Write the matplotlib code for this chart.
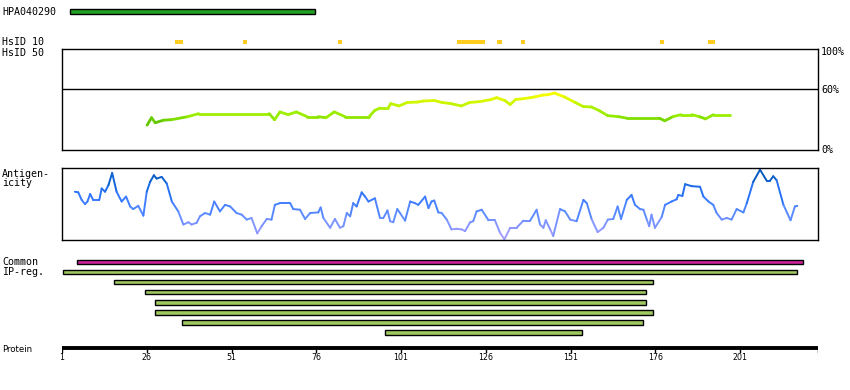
import matplotlib.pyplot as plt
import numpy as np
from matplotlib.collections import LineCollection
from matplotlib.colors import LinearSegmentedColormap

# Protein / antigen data (residue positions)
protein_len = 224
tick_pos = [1, 26, 51, 76, 101, 126, 151, 176, 201]
antigen_name = "HPA040290"
antigen_span = (3.4, 75.6)

hsid10_start = [34.3, 54.4, 82.4, 117.5, 129.3, 136.4, 177.4, 191.6]
hsid10_end = [36.7, 55.6, 83.6, 125.8, 130.8, 137.6, 178.6, 193.6]

sim_pos = [26.1, 27.4, 28.5, 30.9, 33.3, 38.1, 41.3, 62.1, 63.7, 65.3, 67.7, 70.1,
           73.3, 76.5, 78.9, 81.3, 84.5, 91.6, 93.2, 94.8, 97.2, 98.0, 100.4, 102.8,
           106.0, 107.6, 110.8, 113.2, 115.6, 118.8, 121.2, 124.4, 127.6, 129.2,
           131.6, 133.2, 134.8, 137.2, 140.4, 142.8, 144.4, 146.3, 149.2, 152.4,
           154.8, 157.2, 159.6, 162.0, 165.2, 167.6, 177.2, 178.8, 181.2, 183.6,
           186.8, 189.2, 190.8, 193.2, 198.0]
sim_val = [24.6, 32.0, 27.0, 29.5, 30.0, 33.0, 36.0, 36.0, 30.0, 37.7, 35.0, 37.7,
           33.0, 33.0, 32.0, 37.7, 33.0, 33.0, 39.0, 41.6, 41.6, 46.0, 43.6, 47.0,
           47.5, 48.5, 49.0, 47.0, 46.0, 43.6, 47.0, 48.0, 50.0, 51.8, 49.0, 45.0,
           50.0, 50.8, 52.5, 54.4, 54.8, 56.4, 52.5, 47.0, 43.0, 42.6, 38.7, 34.0,
           33.0, 31.5, 31.5, 28.9, 33.0, 35.0, 35.0, 32.8, 30.8, 35.0, 35.0]

ag_pos = [4.8, 5.8, 6.8, 7.8, 8.5, 9.3, 10.2, 12.0, 12.7, 13.7, 14.7, 15.8, 17.1,
          18.6, 19.9, 21.1, 22.0, 23.5, 25.0, 26.0, 27.0, 28.1, 28.9, 30.4, 31.9,
          33.4, 35.3, 36.8, 38.3, 39.2, 40.7, 41.7, 43.2, 44.7, 45.9, 47.6, 49.1,
          50.6, 52.5, 54.0, 55.5, 56.9, 58.6, 59.9, 61.4, 62.8, 63.8, 65.3, 68.3,
          69.2, 71.2, 72.7, 74.2, 76.6, 77.3, 78.1, 80.1, 81.5, 83.0, 84.0, 85.0,
          86.0, 86.9, 87.9, 89.4, 90.4, 91.4, 93.3, 94.8, 95.8, 97.0, 97.8, 98.7,
          99.9, 100.7, 102.2, 103.7, 105.1, 106.1, 108.1, 109.1, 110.0, 110.8,
          112.0, 113.0, 114.5, 115.9, 117.4, 118.9, 119.9, 121.4, 122.3, 123.3,
          124.8, 126.8, 128.7, 130.2, 131.5, 133.2, 135.1, 137.1, 139.1, 141.0,
          142.0, 143.0, 143.7, 145.0, 145.9, 147.9, 149.4, 150.9, 152.8, 154.8,
          155.8, 157.2, 159.0, 160.7, 162.0, 163.6, 164.9, 165.9, 167.6, 169.0,
          170.0, 171.5, 172.5, 173.5, 174.2, 174.9, 175.9, 177.9, 178.9, 180.8,
          182.3, 182.8, 184.0, 184.8, 186.7, 189.2, 190.2, 191.7, 193.1, 194.1,
          195.6, 197.1, 198.5, 200.0, 202.0, 203.0, 204.9, 206.9, 208.9, 209.8,
          210.8, 211.8, 213.8, 215.9, 217.2, 217.9]
ag_val = [0.674, 0.665, 0.558, 0.498, 0.535, 0.642, 0.558, 0.558, 0.72, 0.674,
          0.767, 0.94, 0.674, 0.535, 0.605, 0.465, 0.428, 0.474, 0.335, 0.674,
          0.814, 0.907, 0.86, 0.884, 0.79, 0.535, 0.395, 0.209, 0.242, 0.209,
          0.233, 0.326, 0.372, 0.349, 0.535, 0.395, 0.488, 0.465, 0.372, 0.349,
          0.279, 0.302, 0.084, 0.186, 0.288, 0.279, 0.488, 0.512, 0.512, 0.428,
          0.419, 0.288, 0.372, 0.381, 0.451, 0.302, 0.163, 0.288, 0.163, 0.186,
          0.372, 0.326, 0.512, 0.465, 0.665, 0.605, 0.535, 0.581, 0.302, 0.302,
          0.409, 0.256, 0.242, 0.428, 0.372, 0.265, 0.535, 0.512, 0.488, 0.605,
          0.442, 0.535, 0.549, 0.381, 0.372, 0.279, 0.14, 0.149, 0.14, 0.116,
          0.242, 0.256, 0.395, 0.419, 0.27, 0.27, 0.093, 0.0, 0.163, 0.163, 0.265,
          0.265, 0.419, 0.209, 0.163, 0.27, 0.14, 0.047, 0.428, 0.395, 0.279,
          0.256, 0.558, 0.512, 0.288, 0.102, 0.163, 0.279, 0.288, 0.465, 0.288,
          0.558, 0.628, 0.488, 0.428, 0.419, 0.279, 0.186, 0.349, 0.163, 0.316,
          0.488, 0.535, 0.567, 0.628, 0.614, 0.781, 0.753, 0.744, 0.605, 0.535,
          0.488, 0.372, 0.279, 0.302, 0.279, 0.428, 0.381, 0.512, 0.814, 0.986,
          0.828, 0.828, 0.893, 0.837, 0.488, 0.27, 0.465, 0.474]

common_span = (5.4, 219.6)
ipreg_start = [1.3, 16.3, 25.5, 28.4, 28.4, 36.4, 96.3]
ipreg_end = [217.8, 175.3, 173.3, 173.3, 175.3, 172.4, 154.4]

W, H = 850, 390
fig = plt.figure(figsize=(W / 100, H / 100), dpi=100)
fig.patch.set_facecolor("white")

x0_px, x1_px = 62, 818
ax_l = x0_px / W
ax_w = (x1_px - x0_px) / W
xlim = (1, protein_len)


def fy(top_px, bottom_px):
    return 1 - bottom_px / H, (bottom_px - top_px) / H


mono = dict(family="DejaVu Sans Mono", fontsize=7.2, color="black")

# Track axes: pixel rows vertically, residues horizontally
ax = fig.add_axes([ax_l, 0, ax_w, 1])
ax.set_xlim(*xlim)
ax.set_ylim(H, 0)
ax.axis("off")

edge = dict(edgecolor="black", linewidth=1.0)
ax.barh(11.5, antigen_span[1] - antigen_span[0], left=antigen_span[0], height=5,
        color="#22a022", **edge)

for s, e in zip(hsid10_start, hsid10_end):
    ax.barh(42, e - s, left=s, height=4.5, color="#ffcc22", linewidth=0)

ax.barh(262, common_span[1] - common_span[0], left=common_span[0], height=4.5,
        color="#cc2299", **edge)
for i, (s, e) in enumerate(zip(ipreg_start, ipreg_end)):
    ax.barh(272 + i * 10.1, e - s, left=s, height=4.5, color="#a0c860", **edge)

# Protein ruler
ax.plot([1, protein_len], [347.5, 347.5], color="black", lw=2.8,
        solid_capstyle="butt")
for t in tick_pos + [protein_len]:
    ax.plot([t, t], [347, 352], color="black", lw=1)
for t in tick_pos:
    ax.text(t, 358, str(t), ha="center", va="center", fontsize=6.3,
            family="DejaVu Sans", stretch="condensed", color="black")

# Left labels
def label(x, y, s, **kw):
    fig.text(x / W, 1 - y / H, s, ha="left", va="center", **{**mono, **kw})

label(2, 12, antigen_name)
label(2, 42, "HsID 10")
label(2, 53, "HsID 50")
label(2, 174, "Antigen-")
label(2, 183, "icity")
label(2, 262, "Common")
label(2, 272, "IP-reg.")
label(2, 349, "Protein", fontsize=6.2, family="DejaVu Sans")

# Similarity box
b, h = fy(49, 150)
ax_s = fig.add_axes([ax_l, b, ax_w, h])
ax_s.set_xlim(*xlim)
ax_s.set_ylim(0, 100)
ax_s.set_xticks([])
ax_s.set_yticks([])
for sp in ax_s.spines.values():
    sp.set_linewidth(1.0)
ax_s.axhline(60, color="black", lw=1.0)
sim_cmap = LinearSegmentedColormap.from_list(
    "sim", [(0, "#55aa11"), (0.15, "#66cc00"), (0.3, "#99ee00"),
            (0.5, "#a8f000"), (0.75, "#d8f800"), (1, "#ffff00")])
sx = np.array(sim_pos)
sv = np.array(sim_val)
seg = np.stack([np.column_stack([sx[:-1], sv[:-1]]),
                np.column_stack([sx[1:], sv[1:]])], axis=1)
mid = (sv[:-1] + sv[1:]) / 2
lc = LineCollection(seg, colors=sim_cmap((mid - 24) / 33), linewidths=2.0,
                    capstyle="round")
ax_s.add_collection(lc)
for y, s in [(52, "100%"), (90, "60%"), (150, "0%")]:
    fig.text(821 / W, 1 - y / H, s, ha="left", va="center", **mono)

# Antigenicity box
b, h = fy(168, 240)
ax_a = fig.add_axes([ax_l, b, ax_w, h])
ax_a.set_xlim(*xlim)
ax_a.set_ylim(-0.01, 1.01)
ax_a.set_xticks([])
ax_a.set_yticks([])
for sp in ax_a.spines.values():
    sp.set_linewidth(1.0)
ag_cmap = LinearSegmentedColormap.from_list(
    "ag", [(0, "#b0a0ff"), (0.15, "#9098ff"), (0.35, "#5c8cff"),
           (0.6, "#3377ff"), (0.8, "#1166dd"), (1, "#0050a8")])
axx = np.array(ag_pos)
av = np.array(ag_val)
seg = np.stack([np.column_stack([axx[:-1], av[:-1]]),
                np.column_stack([axx[1:], av[1:]])], axis=1)
mid = (av[:-1] + av[1:]) / 2
lc = LineCollection(seg, colors=ag_cmap(mid), linewidths=1.4, capstyle="round")
ax_a.add_collection(lc)

fig.savefig("out.png", dpi=100, facecolor="white")
